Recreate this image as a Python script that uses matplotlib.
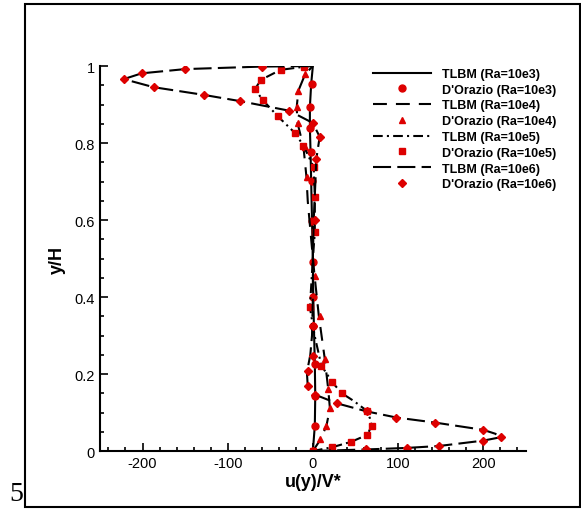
# Perfil de velocidade u(y)/V* - TLBM vs D'Orazio

import matplotlib
matplotlib.use("Agg")
import matplotlib.pyplot as plt
from matplotlib.patches import Rectangle
from matplotlib.ticker import MultipleLocator

# TLBM (linhas) - Ra = 10e3
y_tlbm_3 = [0, 0.066, 0.144, 0.226, 0.325, 0.4, 0.49, 0.598, 0.702, 0.776, 0.84, 0.893, 0.953, 1.0]
u_tlbm_3 = [0, 2.3, 2.8, 2.3, 1.2, 0.5, 0, -1.0, -2.0, -2.7, -3.5, -3.5, -2.0, 0]

# TLBM - Ra = 10e4
y_tlbm_4 = [0, 0.03, 0.066, 0.111, 0.161, 0.239, 0.351, 0.455, 0.55, 0.649, 0.711, 0.789, 0.852, 0.893, 0.936, 0.979, 1.0]
u_tlbm_4 = [0, 9, 16, 20, 18, 14, 7, 2, -2, -6, -7.5, -11, -18, -19, -17, -9, 0]

# TLBM - Ra = 10e5
y_tlbm_5 = [0, 0.01, 0.024, 0.042, 0.066, 0.085, 0.105, 0.13, 0.15, 0.178, 0.222, 0.3, 0.373, 0.5,
            0.568, 0.66, 0.737, 0.793, 0.826, 0.869, 0.912, 0.94, 0.964, 0.99, 0.998, 1.0]
u_tlbm_5 = [0, 23, 45, 64, 69, 67, 63, 48, 34, 23, 10, 2, -3.5, 0,
            2.3, 2.3, 1, -11, -21, -41, -59, -68, -61, -38, -10.5, 0]

# TLBM - Ra = 10e6
y_tlbm_6 = [0, 0.004, 0.008, 0.013, 0.027, 0.036, 0.045, 0.055, 0.074, 0.087, 0.103, 0.124, 0.146,
            0.168, 0.204, 0.25, 0.3, 0.4, 0.5, 0.6, 0.7, 0.758, 0.816, 0.852, 0.884, 0.909, 0.925,
            0.945, 0.966, 0.981, 0.992, 0.9985, 1.0]
u_tlbm_6 = [0, 62, 110, 148, 200, 221, 214, 200, 143, 98, 63, 28, 3,
            -6, -7, -3, -1, 0, 0, 1, 3, 4, 8, 0, -28, -86, -128,
            -187, -222, -201, -150, -60, 0]

# D'Orazio (marcadores)
y_dor_3 = [0, 0.066, 0.144, 0.226, 0.325, 0.4, 0.49, 0.598, 0.702, 0.776, 0.84, 0.893, 0.953]
u_dor_3 = [0, 2.3, 2.3, 2.3, 0.5, 0.4, 0.4, -1.5, -0.8, -2.7, -3.5, -3.5, -1.5]

y_dor_4 = [0, 0.031, 0.066, 0.111, 0.161, 0.239, 0.351, 0.455, 0.711, 0.789, 0.852, 0.893, 0.936, 0.979]
u_dor_4 = [0, 8, 16, 20, 18, 14, 8, 2.3, -7.4, -9, -18, -19, -17, -9]

y_dor_5 = [0, 0.01, 0.024, 0.042, 0.066, 0.105, 0.15, 0.178, 0.222, 0.373, 0.568, 0.66, 0.737,
           0.793, 0.826, 0.869, 0.912, 0.94, 0.964, 0.99, 0.998]
u_dor_5 = [0, 23, 45, 64, 69, 63, 34, 23, 10, -3.5, 2.3, 2.3, 1,
           -11, -21, -41, -59, -68, -61, -38, -10.5]

y_dor_6 = [0, 0.005, 0.008, 0.012, 0.027, 0.036, 0.055, 0.074, 0.087, 0.103, 0.124, 0.146, 0.17,
           0.209, 0.248, 0.326, 0.6, 0.758, 0.815, 0.852, 0.884, 0.909, 0.925, 0.945, 0.966,
           0.981, 0.992, 0.9985]
u_dor_6 = [0, 62, 110, 148, 200, 221, 200, 143, 98, 63, 28, 2.3, -5.5,
           -5.5, 0, 0, 2, 4, 8, 0, -28, -86, -128, -187, -222,
           -201, -150, -60]

plt.rcParams["font.family"] = ["Liberation Sans", "DejaVu Sans"]
plt.rcParams["lines.scale_dashes"] = False
plt.rcParams["axes.unicode_minus"] = False  # hifen simples nos rotulos

fig = plt.figure(figsize=(5.81, 5.10), dpi=100)
ax = fig.add_axes([0.172, 0.1137, 0.733, 0.7549])

vermelho = "#dd0000"
lw = 1.5

ax.plot(u_tlbm_3, y_tlbm_3, color="black", lw=lw, ls="-", label="TLBM (Ra=10e3)")
ax.plot(u_dor_3, y_dor_3, ls="none", marker="o", ms=5, color=vermelho, label="D'Orazio (Ra=10e3)")
ax.plot(u_tlbm_4, y_tlbm_4, color="black", lw=lw, ls=(0, (10, 6.5)), label="TLBM (Ra=10e4)")
ax.plot(u_dor_4, y_dor_4, ls="none", marker="^", ms=4.8, color=vermelho, label="D'Orazio (Ra=10e4)")
ax.plot(u_tlbm_5, y_tlbm_5, color="black", lw=lw, ls=(0, (7, 3, 1.5, 3)), label="TLBM (Ra=10e5)")
ax.plot(u_dor_5, y_dor_5, ls="none", marker="s", ms=4.5, color=vermelho, label="D'Orazio (Ra=10e5)")
ax.plot(u_tlbm_6, y_tlbm_6, color="black", lw=lw, ls=(0, (13, 4.5)), label="TLBM (Ra=10e6)")
ax.plot(u_dor_6, y_dor_6, ls="none", marker="D", ms=4.0, color=vermelho, label="D'Orazio (Ra=10e6)")

ax.set_xlim(-250, 250)
ax.set_ylim(0, 1)
ax.spines["top"].set_visible(False)
ax.spines["right"].set_visible(False)
ax.spines["left"].set_linewidth(1.5)
ax.spines["bottom"].set_linewidth(1.5)

ax.xaxis.set_major_locator(MultipleLocator(100))
ax.xaxis.set_minor_locator(MultipleLocator(20))
ax.yaxis.set_minor_locator(MultipleLocator(0.05))
ax.set_yticks([0, 0.2, 0.4, 0.6, 0.8, 1.0])
ax.set_yticklabels(["0", "0.2", "0.4", "0.6", "0.8", "1"])
ax.tick_params(which="both", direction="in", width=1.2, labelsize=10.5)
ax.tick_params(which="major", length=6)
ax.tick_params(which="minor", length=3)

ax.set_xlabel("u(y)/V*", fontsize=13, fontweight="bold", labelpad=2)
ax.set_ylabel("y/H", fontsize=13, fontweight="bold", labelpad=6)

ax.legend(loc="upper left", bbox_to_anchor=(373 / 581, 1 - 69 / 510), bbox_transform=fig.transFigure,
          frameon=False, prop={"size": 9, "weight": "bold"}, handlelength=4.6, handletextpad=0.9,
          labelspacing=0.3, borderpad=0, borderaxespad=0)

# Moldura externa e numero
fig.patches.append(Rectangle((25 / 581, 2 / 510), 555 / 581, 503 / 510, transform=fig.transFigure,
                             fill=False, edgecolor="black", lw=1.5))
fig.text(9 / 581, 1 - 495 / 510, "5", fontsize=20, family="Liberation Serif", va="center")

fig.savefig("out.png", dpi=100)
